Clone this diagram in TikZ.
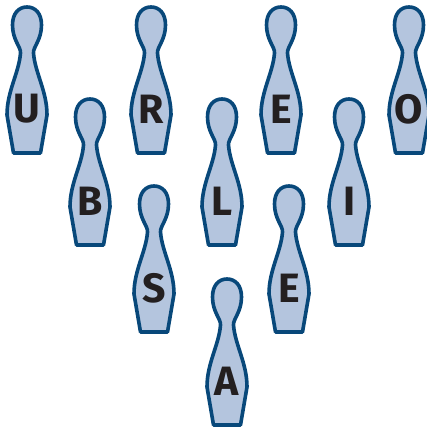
\documentclass[tikz,border=0pt]{standalone}
\usepackage{fontspec}
\setmainfont{Fira Sans}
\usepackage{xcolor}
\definecolor{pinblue}{RGB}{8,72,122}
\definecolor{pinfill}{RGB}{180,197,222}
\definecolor{ink}{RGB}{35,31,32}
\begin{document}
\begin{tikzpicture}[x=1pt, y=-1pt,
  pinline/.style={draw=pinblue, fill=pinfill, line width=3.6pt, line join=round},
  letter/.style={font=\fontsize{41}{41}\selectfont\bfseries, text=ink, inner sep=0pt},
  pin/.pic={
    \path[pinline] (-13.5,148) -- (-20,110)
      .. controls (-20,86) and (-8,68) .. (-6.5,48)
      .. controls (-6,42) and (-14.5,35) .. (-14.5,20)
      .. controls (-14.5,8) and (-8,2) .. (0,2)
      .. controls (8,2) and (14.5,8) .. (14.5,20)
      .. controls (14.5,35) and (6,42) .. (6.5,48)
      .. controls (8,68) and (20,86) .. (20,110)
      -- (13.5,148) -- cycle;
  }
  ]
  \useasboundingbox (0,0) rectangle (426,430);

  % pins: x / top / letter / name
  \foreach \x/\y/\c/\n in {27/5/U/u, 151/5/R/r, 281/5/E/e, 409/5/O/o,
                           90/97/B/b, 222/97/L/l, 349/97/I/i,
                           154/184/S/s, 289/184/E/ee,
                           227/277/A/a}{
    \pic at (\x,\y) {pin};
    \node[letter] (\n) at (\x,\y+104) {\c};
  }
\end{tikzpicture}
\end{document}
